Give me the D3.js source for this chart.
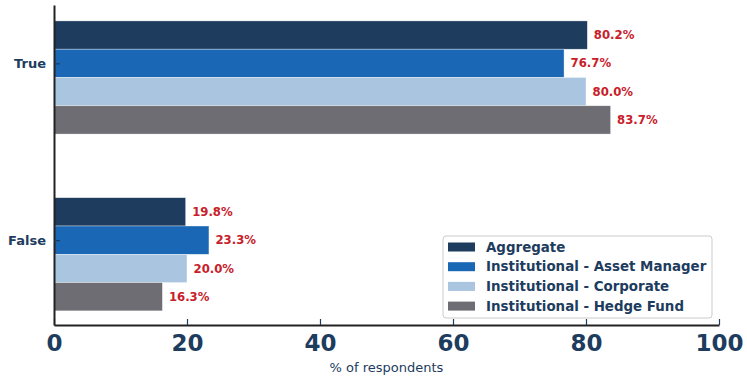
<!DOCTYPE html>
<html>
<head>
<meta charset="utf-8">
<script src="https://cdn.jsdelivr.net/npm/d3@7"></script>
<style>
  body { margin: 0; background: #ffffff; font-family: "DejaVu Sans", sans-serif; }
  svg { display: block; }
</style>
</head>
<body>
<svg id="chart"></svg>
<script>
  // datos
  const categorias = ["True", "False"];
  const series = ["Aggregate", "Institutional - Asset Manager", "Institutional - Corporate", "Institutional - Hedge Fund"];
  const valores = [
    [80.2, 19.8],
    [76.7, 23.3],
    [80.0, 20.0],
    [83.7, 16.3]
  ];
  const ticksX = [0, 20, 40, 60, 80, 100];
  const colores = ["#1d3c5e", "#1a67b5", "#a9c5e0", "#6e6d74"];
  const azul = "#1d3c5e";

  const ancho = 747, alto = 379;
  const margenes = { top: 5, left: 54, right: 28, bottom: 54 };
  const contenedor = d3.select("#chart").attr("width", ancho).attr("height", alto);

  const escalaX = d3.scaleLinear().domain([0, 100]).range([margenes.left, ancho - margenes.right]);
  // posicion de cada categoria en unidades; el tick cae en la segunda barra
  const escalaY = d3.scaleLinear().domain([-0.33, 1.48]).range([margenes.top, alto - margenes.bottom]);
  const altoBarra = 0.16;

  // barras
  series.forEach((s, k) => {
    const g = contenedor.append("g");
    const datos = categorias.map((c, i) => ({ c, i, v: valores[k][i] }));
    g.selectAll("rect").data(datos).enter().append("rect")
      .attr("x", escalaX(0))
      .attr("y", d => escalaY(d.i + (k - 1) * altoBarra - altoBarra / 2))
      .attr("width", d => escalaX(d.v) - escalaX(0))
      .attr("height", escalaY(altoBarra) - escalaY(0))
      .attr("fill", colores[k])
      .attr("stroke", "#ffffff")
      .attr("stroke-opacity", 0.6)
      .attr("stroke-width", 0.6);

    g.selectAll("text").data(datos).enter().append("text")
      .attr("x", d => escalaX(d.v) + 6.5)
      .attr("y", d => escalaY(d.i + (k - 1) * altoBarra))
      .attr("dy", "0.35em")
      .attr("fill", "#c8202a")
      .attr("font-size", 11.7)
      .attr("font-weight", "bold")
      .text(d => d.v.toFixed(1) + "%");
  });

  // ejes
  const ejeX = d3.axisBottom(escalaX).tickValues(ticksX).tickSizeInner(-6).tickSizeOuter(0).tickPadding(10);
  const gx = contenedor.append("g")
    .attr("transform", `translate(0,${alto - margenes.bottom})`)
    .call(ejeX);
  gx.select(".domain").attr("stroke", "#222").attr("stroke-width", 2);
  gx.selectAll(".tick line").attr("stroke", azul).attr("stroke-width", 1.2);
  gx.selectAll(".tick text").attr("fill", azul).attr("font-size", 23).attr("font-weight", "bold")
    .attr("font-family", "DejaVu Sans");

  const ejeY = d3.axisLeft(escalaY).tickValues([0, 1]).tickFormat(i => categorias[i])
    .tickSizeInner(-6).tickSizeOuter(0).tickPadding(8);
  const gy = contenedor.append("g")
    .attr("transform", `translate(${margenes.left},0)`)
    .call(ejeY);
  gy.select(".domain").attr("stroke", "#222").attr("stroke-width", 2);
  gy.selectAll(".tick line").attr("stroke", azul).attr("stroke-width", 1.2);
  gy.selectAll(".tick text").attr("fill", azul).attr("font-size", 13).attr("font-weight", "bold")
    .attr("font-family", "DejaVu Sans");

  contenedor.append("text")
    .attr("x", (escalaX(0) + escalaX(100)) / 2)
    .attr("y", 372)
    .attr("text-anchor", "middle")
    .attr("fill", azul)
    .attr("font-size", 13)
    .text("% of respondents");

  // leyenda
  const leyenda = contenedor.append("g").attr("transform", "translate(443,236)");
  leyenda.append("rect")
    .attr("width", 269).attr("height", 82).attr("rx", 3)
    .attr("fill", "#ffffff").attr("fill-opacity", 0.85)
    .attr("stroke", "#cccccc").attr("stroke-width", 1);
  series.forEach((s, k) => {
    const fila = leyenda.append("g").attr("transform", `translate(0,${11 + k * 19.7})`);
    fila.append("rect").attr("x", 5).attr("y", -4.5).attr("width", 27).attr("height", 9).attr("fill", colores[k]);
    fila.append("text").attr("x", 43).attr("dy", "0.35em")
      .attr("fill", azul).attr("font-size", 13.4).attr("font-weight", "bold").text(s);
  });
</script>
</body>
</html>
